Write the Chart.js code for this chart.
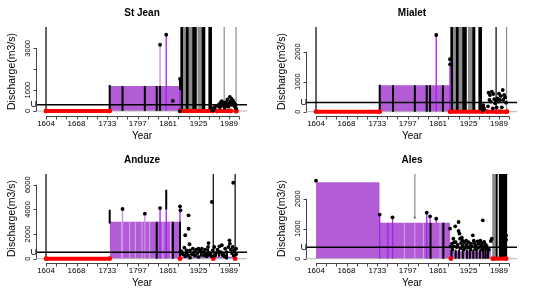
<!DOCTYPE html>
<html><head><meta charset="utf-8">
<script src="https://cdn.jsdelivr.net/npm/chart.js@4.4.0/dist/chart.umd.min.js"></script>
<style>
html,body{margin:0;padding:0;background:#fff;}
#wrap{position:relative;width:540px;height:294px;overflow:hidden;}
.panel{position:absolute;width:270px;height:147px;}
canvas{display:block;}
</style></head><body>
<div id="wrap">
<div class="panel" style="left:0;top:0"><canvas id="c0" width="270" height="147"></canvas></div>
<div class="panel" style="left:270px;top:0"><canvas id="c1" width="270" height="147"></canvas></div>
<div class="panel" style="left:0;top:147px"><canvas id="c2" width="270" height="147"></canvas></div>
<div class="panel" style="left:270px;top:147px"><canvas id="c3" width="270" height="147"></canvas></div>
</div>
<script>
// ---------- shared axis data ----------
const xTickYears = [1604, 1668, 1733, 1797, 1861, 1925, 1989];
const xTickLabels = ["1604", "1668", "1733", "1797", "1861", "1925", "1989"];
const xAxisStart = 1604, xAxisEnd = 2011, xMinorCount = 20;
const xLabel = "Year";
const yLabel = "Discharge(m3/s)";

// ---------- St Jean ----------
const stJeanYTicks = [0, 1000, 2000, 3000];
const stJeanYLabels = ["0", "1000", "", "3000"];
const stJeanRects = [[1738, 1886, 1200]];
const stJeanStripes = [];
const stJeanRed = [[1604, 1738], [1886, 1955], [1964, 1993], [2003, 2005]];
const stJeanRedDots = [];
const stJeanBars = [[1738, 0, 1250], [1765, 0, 1200], [1812, 0, 1200], [1837, 0, 1200], [1844, 0, 1200], [1886, 1000, 1530]];
const stJeanPurple = [[1857, 0, 3650], [1886, 0, 1200]];
const stJeanLilac = [[1844, 1200, 3170]];
const stJeanGrayPart = [];
const stJeanBlackFull = [1604, 1888, 1889, 1890, 1891, 1899, 1900, 1901, 1902, 1903, 1913, 1914, 1915, 1916, 1917, 1918, 1919, 1920, 1933, 1934, 1935, 1936, 1937, 1938, 1947, 1948, 1949, 1950, 1951, 1952];
const stJeanGrayFull = [1893, 1894, 1895, 1896, 1905, 1906, 1907, 1908, 1909, 1910, 1911, 1924, 1925, 1926, 1927, 1928, 1929, 1930, 1931, 1979, 2004];
const stJeanPoints = [[1844,3170],[1857,3650],[1871,480],[1886,1530],[1886,0],[1953,60],[1955,120],[1956,40],[1957,150],[1958,90],[1960,200],[1966,250],[1968,310],[1970,180],[1972,420],[1974,470],[1975,260],[1977,310],[1979,380],[1980,150],[1982,300],[1983,420],[1985,250],[1986,550],[1988,200],[1989,350],[1991,680],[1992,450],[1994,300],[1995,580],[1997,310],[1998,480],[2000,390],[2001,220],[2003,300],[2004,120]];
const stJeanU = 300;

// ---------- Mialet ----------
const mialetYTicks = [0, 1000, 2000];
const mialetYLabels = ["0", "1000", "2000"];
const mialetRects = [[1738, 1886, 880]];
const mialetStripes = [];
const mialetRed = [[1604, 1738], [1886, 1955], [1964, 1985], [1990, 2006]];
const mialetRedDots = [];
const mialetBars = [[1738, 0, 900], [1766, 0, 880], [1812, 0, 880], [1837, 0, 880], [1844, 0, 880], [1871, 0, 880]];
const mialetPurple = [[1857, 0, 2557], [1886, 0, 1750]];
const mialetLilac = [];
const mialetGrayPart = [];
const mialetBlackFull = [1604, 1888, 1889, 1890, 1891, 1899, 1900, 1901, 1902, 1903, 1913, 1914, 1915, 1916, 1917, 1918, 1919, 1920, 1934, 1935, 1936, 1937, 1938, 1947, 1948, 1949, 1950, 1951, 1952, 1983];
const mialetGrayFull = [1893, 1894, 1895, 1896, 1905, 1906, 1907, 1908, 1909, 1910, 1911, 1925, 1926, 1927, 1928, 1929, 1930, 1931, 2005];
const mialetPoints = [[1857,2557],[1886,1750],[1886,1580],[1953,100],[1954,180],[1955,60],[1956,220],[1957,130],[1958,80],[1966,180],[1967,633],[1969,390],[1970,557],[1972,333],[1974,667],[1976,113],[1977,590],[1979,420],[1981,280],[1983,360],[1984,147],[1986,447],[1988,333],[1989,600],[1991,390],[1993,523],[1995,147],[1997,723],[1998,390],[2000,560],[2002,480],[2004,300]];
const mialetU = 310;

// ---------- Anduze ----------
const anduzeYTicks = [0, 2000, 4000, 6000];
const anduzeYLabels = ["0", "2000", "4000", "6000"];
const anduzeRects = [[1738, 1886, 3000], [1886, 2003, 150]];
const anduzeStripes = [1763, 1780, 1792, 1806, 1822, 1850, 1866];
const anduzeRed = [[1604, 1738]];
const anduzeRedDots = [1886, 1956, 2002];
const anduzeBars = [[1738, 2850, 3980], [1857, 4000, 5600], [1837, 0, 3000], [1871, 0, 3000], [1886, 0, 3000], [1900, 150, 700], [1915, 150, 600], [1930, 150, 700], [1945, 150, 800], [1968, 150, 700], [1985, 150, 600]];
const anduzePurple = [[1844, 0, 4110], [1857, 0, 4000], [1886, 0, 4250]];
const anduzeLilac = [[1765, 0, 4030], [1812, 0, 3650]];
const anduzeGrayPart = [];
const anduzeBlackFull = [1604, 1956, 2002];
const anduzeGrayFull = [];
const anduzePoints = [[1765,4030],[1812,3650],[1844,4110],[1886,4250],[1887,3920],[1897,1900],[1904,3520],[1904,2430],[1895,890],[1906,1170],[1953,4600],[1998,6160],[1946,1270],[1990,1490],[1890,540],[1892,360],[1899,360],[1900,680],[1907,680],[1911,360],[1913,810],[1916,540],[1920,730],[1923,460],[1925,810],[1928,620],[1932,810],[1935,540],[1939,730],[1941,360],[1945,950],[1949,460],[1955,680],[1958,950],[1962,460],[1965,730],[1969,1000],[1972,540],[1974,1090],[1977,360],[1981,810],[1984,540],[1988,950],[1991,1220],[1993,730],[1995,460],[1997,950],[2000,680],[2004,810],[2004,360],[1942,190],[1953,190],[1984,80],[1897,190],[1907,80],[1925,140],[1888,620],[1903,300],[1918,250],[1936,280],[1950,300],[1960,250],[1975,300],[1980,200],[1999,250]];
const anduzeU = 520;

// ---------- Ales ----------
const alesYTicks = [0, 1000, 2000];
const alesYLabels = ["0", "1000", "2000"];
const alesRects = [[1604, 1738, 2550], [1738, 1886, 1200], [1886, 1972, 250]];
const alesStripes = [1790, 1812, 1830, 1865];
const alesRed = [[1976, 2004]];
const alesRedDots = [1888];
const alesBars = [[1845, 0, 1200], [1872, 0, 1200], [1889, 0, 300], [1898, 0, 300], [1905, 0, 300], [1913, 0, 300], [1922, 0, 300], [1928, 0, 300], [1935, 0, 300], [1942, 0, 300], [1949, 0, 300], [1956, 0, 300], [1961, 0, 300], [1966, 0, 300]];
const alesPurple = [[1738, 0, 1470], [1755, 0, 1200], [1765, 0, 1380], [1837, 0, 1533], [1844, 1200, 1413], [1857, 1200, 1333]];
const alesLilac = [];
const alesGrayPart = [1812];
const alesGrayPartFrom = 1370;
const alesBlackFull = [1983, 1984, 1985, 1990, 1991, 1992, 1993, 1994, 1995, 1996, 1997, 1998, 1999, 2000, 2001, 2002, 2003, 2004, 2005];
const alesGrayFull = [1976, 1977, 1978, 1979, 1980];
const alesPoints = [[1604,2600],[1738,1470],[1765,1380],[1837,1533],[1844,1413],[1857,1333],[1886,1000],[1887,400],[1890,500],[1891,300],[1893,667],[1894,410],[1895,550],[1897,1080],[1898,555],[1900,390],[1902,460],[1904,1223],[1904,923],[1906,833],[1907,667],[1908,350],[1909,520],[1911,700],[1912,600],[1913,440],[1915,300],[1916,555],[1918,360],[1920,600],[1921,470],[1923,380],[1925,555],[1927,390],[1929,300],[1930,500],[1932,410],[1934,780],[1936,600],[1937,520],[1939,320],[1940,440],[1943,330],[1944,580],[1946,500],[1947,380],[1949,555],[1950,600],[1952,440],[1953,300],[1954,520],[1955,1280],[1957,390],[1958,560],[1960,330],[1961,470],[1963,420],[1965,330],[1968,300],[1972,590],[1974,667],[2004,780],[2004,633]];
const alesGrayPoints = [[1812,1370]];
const alesU = 380;

// ---------- build ----------
const FONT = '"Liberation Sans", Arial, Helvetica, sans-serif';
const X_MIN = 1585, X_MAX = 2027;
const FULL_TOP = 100000;
const C_FILL = '#b25cd6', C_PURPLE = '#a020f0', C_LILAC = '#c98ee8', C_STRIPE = '#d2a6ec', C_GRAY = '#8c8c8c', C_RED = '#ff0000';

function vSeg(list) { const d = []; for (const [x, lo, hi] of list) { d.push({x, y: lo}, {x, y: hi}, {x, y: null}); } return d; }
function hSeg(list) { const d = []; for (const [a, b] of list) { d.push({x: a, y: 0}, {x: b, y: 0}, {x: b, y: null}); } return d; }
function pts(list) { return list.map(([x, y]) => ({x, y})); }
function lineDs(data, color, width, order) {
  return {type: 'line', data, borderColor: color, borderWidth: width, pointRadius: 0, fill: false, order, spanGaps: false, tension: 0};
}

const axesPlugin = {
  id: 'rAxes',
  afterDraw(chart, args, o) {
    const ctx = chart.ctx, a = chart.chartArea, xs = chart.scales.x, ys = chart.scales.y;
    ctx.save();
    ctx.fillStyle = '#000'; ctx.strokeStyle = '#444'; ctx.lineWidth = 1;
    const cx = (a.left + a.right) / 2;
    ctx.font = 'bold 10px ' + FONT; ctx.textAlign = 'center'; ctx.textBaseline = 'middle';
    ctx.fillText(o.title, cx, 13);
    // x axis
    const yb = Math.round(a.bottom) + 0.5;
    ctx.beginPath();
    ctx.moveTo(xs.getPixelForValue(xAxisStart), yb); ctx.lineTo(xs.getPixelForValue(xAxisEnd), yb);
    const step = (xAxisEnd - xAxisStart) / (xMinorCount - 1);
    for (let i = 0; i < xMinorCount; i++) {
      const px = Math.round(xs.getPixelForValue(xAxisStart + i * step)) + 0.5;
      ctx.moveTo(px, yb); ctx.lineTo(px, yb + 3);
    }
    ctx.stroke();
    ctx.font = '8px ' + FONT; ctx.textBaseline = 'top';
    xTickYears.forEach((v, i) => ctx.fillText(xTickLabels[i], xs.getPixelForValue(v), yb + 3));
    ctx.font = '10px ' + FONT; ctx.textBaseline = 'middle';
    ctx.fillText(xLabel, cx, 136);
    // y axis
    const xl = Math.round(a.left) - 0.5;
    ctx.beginPath();
    ctx.moveTo(xl, ys.getPixelForValue(o.yTicks[0])); ctx.lineTo(xl, ys.getPixelForValue(o.yTicks[o.yTicks.length - 1]));
    o.yTicks.forEach(v => { const py = Math.round(ys.getPixelForValue(v)) + 0.5; ctx.moveTo(xl, py); ctx.lineTo(xl - 3, py); });
    ctx.stroke();
    ctx.font = '7.5px ' + FONT; ctx.textAlign = 'center'; ctx.textBaseline = 'middle';
    o.yTicks.forEach((v, i) => {
      if (!o.yLabels[i]) return;
      ctx.save(); ctx.translate(28, ys.getPixelForValue(v)); ctx.rotate(-Math.PI / 2);
      ctx.fillText(o.yLabels[i], 0, 0); ctx.restore();
    });
    ctx.save(); ctx.font = '10.5px ' + FONT; ctx.translate(12, (a.top + a.bottom) / 2); ctx.rotate(-Math.PI / 2);
    ctx.fillText(yLabel, 0, 0); ctx.restore();
    ctx.font = '9px ' + FONT; ctx.textAlign = 'right'; ctx.textBaseline = 'middle';
    ctx.fillText('U', a.left, ys.getPixelForValue(o.U));
    ctx.restore();
  }
};

function makePanel(id, p) {
  const ds = [];
  p.rects.forEach(([a, b, h]) => ds.push({type: 'line', data: [{x: a, y: 0}, {x: a, y: h}, {x: b, y: h}, {x: b, y: 0}],
    borderWidth: 0, borderColor: 'rgba(0,0,0,0)', backgroundColor: C_FILL, fill: 'origin', pointRadius: 0, order: 30, tension: 0}));
  const stripeData = [];
  p.stripes.forEach(x => { const r = p.rects.find(([a, b]) => x >= a && x <= b); if (r) stripeData.push([x, 0, r[2]]); });
  ds.push(lineDs(vSeg(stripeData), C_STRIPE, 1, 29));
  ds.push(lineDs([{x: X_MIN, y: 0}, {x: X_MAX, y: 0}], '#b4b4b4', 1, 28));
  ds.push(lineDs(vSeg(p.grayFull.map(x => [x, 0, FULL_TOP])), C_GRAY, 1.2, 27));
  ds.push(lineDs(vSeg(p.grayPart.map(x => [x, p.grayPartFrom, FULL_TOP])), C_GRAY, 1.2, 27));
  ds.push(lineDs(vSeg(p.blackFull.map(x => [x, 0, FULL_TOP])), '#000', 1.2, 26));
  ds.push(lineDs(vSeg(p.lilac), C_LILAC, 1.3, 25));
  ds.push(lineDs(vSeg(p.purple), C_PURPLE, 1.3, 24));
  ds.push(lineDs(vSeg(p.bars), '#000', 2, 23));
  ds.push(lineDs([{x: X_MIN, y: p.U}, {x: X_MAX, y: p.U}], '#000', 1.5, 22));
  ds.push({type: 'line', data: hSeg(p.red), borderColor: C_RED, borderWidth: 4, pointRadius: 2.4, pointBackgroundColor: C_RED, pointBorderWidth: 0, order: 21, spanGaps: false, tension: 0});
  ds.push({type: 'line', data: p.redDots.map(x => ({x, y: 0})), showLine: false, pointRadius: 2.4, pointBackgroundColor: C_RED, pointBorderWidth: 0, order: 20});
  ds.push({type: 'line', data: pts(p.grayPoints || []), showLine: false, pointRadius: 1.2, pointBackgroundColor: '#777', pointBorderWidth: 0, order: 11});
  ds.push({type: 'line', data: pts(p.points), showLine: false, pointRadius: 1.9, pointBackgroundColor: '#000', pointBorderWidth: 0, order: 10});
  new Chart(document.getElementById(id), {
    data: {datasets: ds},
    options: {
      responsive: false, animation: false, devicePixelRatio: 1, events: [],
      layout: {padding: {left: 37, right: 23, top: 27, bottom: 31}},
      scales: {
        x: {type: 'linear', min: X_MIN, max: X_MAX, display: false},
        y: {type: 'linear', min: p.yMin, max: p.yMax, display: false}
      },
      plugins: {legend: {display: false}, tooltip: {enabled: false}, title: {display: false},
        rAxes: {title: p.title, yTicks: p.yTicks, yLabels: p.yLabels, U: p.U}}
    },
    plugins: [axesPlugin]
  });
}

makePanel('c0', {title: 'St Jean', yMin: -239, yMax: 4019, yTicks: stJeanYTicks, yLabels: stJeanYLabels, rects: stJeanRects, stripes: stJeanStripes,
  red: stJeanRed, redDots: stJeanRedDots, bars: stJeanBars, purple: stJeanPurple, lilac: stJeanLilac, grayPart: stJeanGrayPart, grayPartFrom: 0,
  blackFull: stJeanBlackFull, grayFull: stJeanGrayFull, points: stJeanPoints, U: stJeanU});
makePanel('c1', {title: 'Mialet', yMin: -143, yMax: 2823, yTicks: mialetYTicks, yLabels: mialetYLabels, rects: mialetRects, stripes: mialetStripes,
  red: mialetRed, redDots: mialetRedDots, bars: mialetBars, purple: mialetPurple, lilac: mialetLilac, grayPart: mialetGrayPart, grayPartFrom: 0,
  blackFull: mialetBlackFull, grayFull: mialetGrayFull, points: mialetPoints, U: mialetU});
makePanel('c2', {title: 'Anduze', yMin: -349, yMax: 6870, yTicks: anduzeYTicks, yLabels: anduzeYLabels, rects: anduzeRects, stripes: anduzeStripes,
  red: anduzeRed, redDots: anduzeRedDots, bars: anduzeBars, purple: anduzePurple, lilac: anduzeLilac, grayPart: anduzeGrayPart, grayPartFrom: 0,
  blackFull: anduzeBlackFull, grayFull: anduzeGrayFull, points: anduzePoints, U: anduzeU});
makePanel('c3', {title: 'Ales', yMin: -143, yMax: 2823, yTicks: alesYTicks, yLabels: alesYLabels, rects: alesRects, stripes: alesStripes,
  red: alesRed, redDots: alesRedDots, bars: alesBars, purple: alesPurple, lilac: alesLilac, grayPart: alesGrayPart, grayPartFrom: alesGrayPartFrom,
  blackFull: alesBlackFull, grayFull: alesGrayFull, points: alesPoints, grayPoints: alesGrayPoints, U: alesU});
</script>
</body></html>
